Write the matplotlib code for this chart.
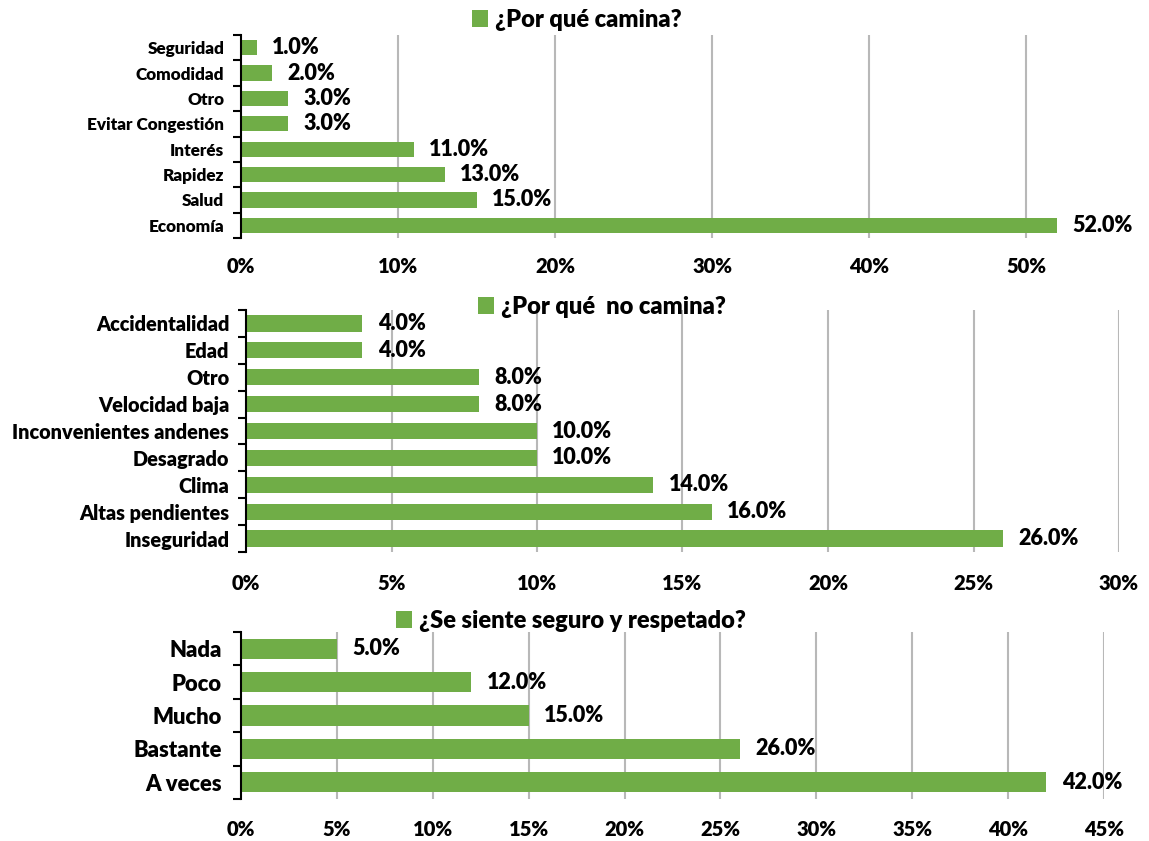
import matplotlib
matplotlib.use("Agg")
import matplotlib.pyplot as plt
from matplotlib.ticker import FuncFormatter

plt.rcParams['font.family'] = ['Lato', 'DejaVu Sans']
WEIGHT = 'heavy'
plt.rcParams['font.weight'] = WEIGHT

GREEN = '#70AD47'

# Chart 1
t1 = "¿Por qué camina?"
c1 = ["Seguridad", "Comodidad", "Otro", "Evitar Congestión", "Interés", "Rapidez", "Salud", "Economía"]
v1 = [1.0, 2.0, 3.0, 3.0, 11.0, 13.0, 15.0, 52.0]
ticks1 = [0, 10, 20, 30, 40, 50]

# Chart 2
t2 = "¿Por qué  no camina?"
c2 = ["Accidentalidad", "Edad", "Otro", "Velocidad baja", "Inconvenientes andenes",
      "Desagrado", "Clima", "Altas pendientes", "Inseguridad"]
v2 = [4.0, 4.0, 8.0, 8.0, 10.0, 10.0, 14.0, 16.0, 26.0]
ticks2 = [0, 5, 10, 15, 20, 25, 30]

# Chart 3
t3 = "¿Se siente seguro y respetado?"
c3 = ["Nada", "Poco", "Mucho", "Bastante", "A veces"]
v3 = [5.0, 12.0, 15.0, 26.0, 42.0]
ticks3 = [0, 5, 10, 15, 20, 25, 30, 35, 40, 45]

W, H = 1149, 841
fig = plt.figure(figsize=(W / 100, H / 100), dpi=100)


def px_axes(left, top, right, bottom):
    return fig.add_axes([left / W, 1 - bottom / H, (right - left) / W, (bottom - top) / H])


def draw(ax, title, cats, vals, ticks, xmax, catsize, valsize, ticksize, xpad, ypad, legxy, titlesize):
    n = len(cats)
    ys = list(range(n))
    bars = ax.barh(ys, vals, height=0.6, color=GREEN, label=title, zorder=2)
    ax.set_ylim(n - 0.5, -0.5)
    ax.set_xlim(0, xmax)
    ax.set_yticks(ys)
    ax.set_yticklabels(cats, fontsize=catsize, fontweight=WEIGHT)
    ax.set_yticks([i - 0.5 for i in range(n + 1)], minor=True)
    ax.tick_params(axis='y', which='major', length=0, pad=ypad)
    ax.tick_params(axis='y', which='minor', length=6, width=1.5, color='black', direction='out')
    ax.set_xticks(ticks)
    ax.xaxis.set_major_formatter(FuncFormatter(lambda x, p: f"{x:.0f}%"))
    ax.tick_params(axis='x', length=0, pad=xpad, labelsize=ticksize)
    for lab in ax.get_xticklabels():
        lab.set_fontweight(WEIGHT)
    for t in ticks:
        if t > 0:
            ax.axvline(t, color='#B8B8B8', lw=1.5, zorder=1)
    for s in ['top', 'right', 'bottom']:
        ax.spines[s].set_visible(False)
    ax.spines['left'].set_linewidth(1.5)
    ax.spines['left'].set_color('black')
    ax.spines['left'].set_zorder(3)
    ax.bar_label(bars, labels=[f"{v:.1f}%" for v in vals], padding=11,
                 fontsize=valsize, fontweight=WEIGHT, color='black')
    ax.legend(loc='center', bbox_to_anchor=(legxy[0] / W, 1 - legxy[1] / H),
              bbox_transform=fig.transFigure, frameon=False,
              handlelength=0.7, handleheight=0.7, handletextpad=0.3,
              borderpad=0, prop={'size': titlesize, 'weight': WEIGHT})


ax1 = px_axes(241, 35, 1136, 238)
draw(ax1, t1, c1, v1, ticks1, 57, 12.3, 15.5, 14.5, 14, 12, (577, 20), 17)

ax2 = px_axes(246, 310, 1119, 552)
draw(ax2, t2, c2, v2, ticks2, 30, 14.3, 15.5, 14.5, 16, 12, (602, 307), 17)

ax3 = px_axes(241, 632, 1104, 799)
draw(ax3, t3, c3, v3, ticks3, 45, 15.8, 15.5, 14.5, 15, 14, (571, 621), 17)

fig.savefig("out.png", dpi=100)
